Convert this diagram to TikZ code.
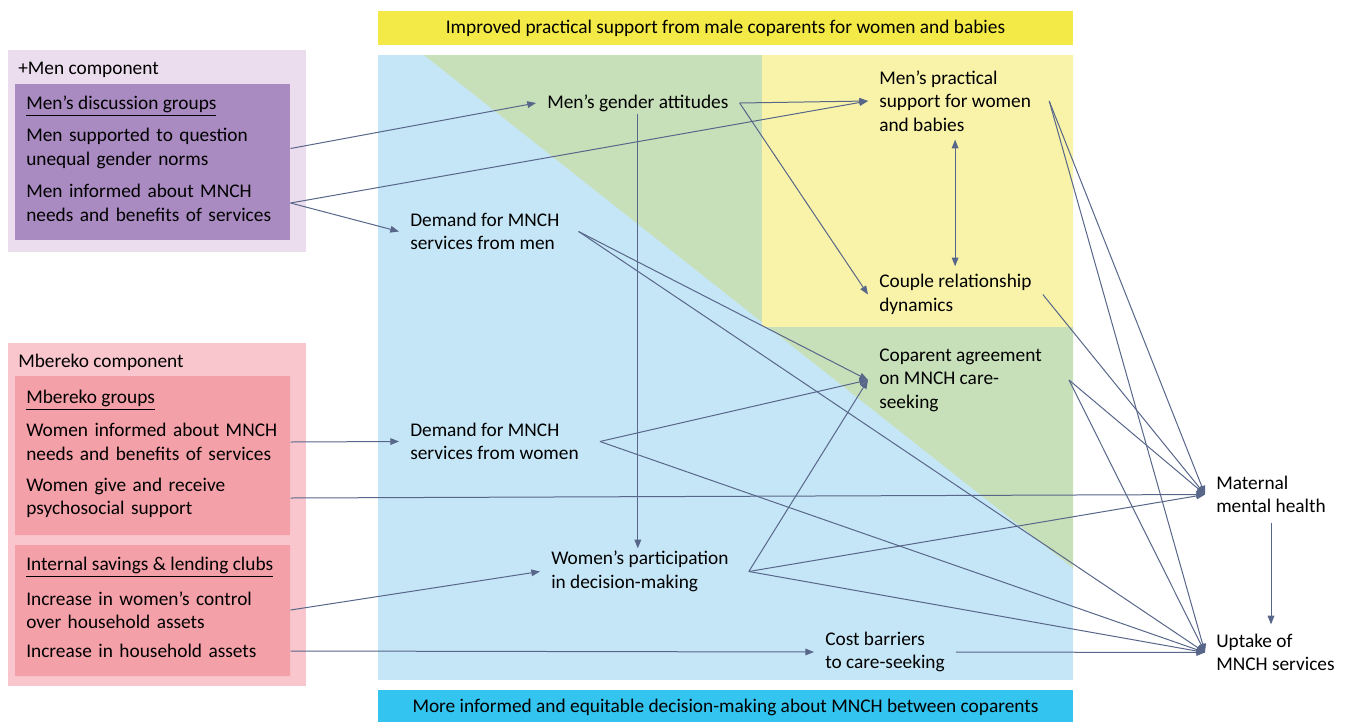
\documentclass[tikz,border=0pt]{standalone}
\usepackage{fontspec}
\setmainfont{Carlito}
\usetikzlibrary{arrows.meta,calc}
\definecolor{panelblue}{RGB}{197,230,246}
\definecolor{panelgreen}{RGB}{200,224,186}
\definecolor{panelyellow}{RGB}{248,243,168}
\definecolor{banneryellow}{RGB}{244,234,71}
\definecolor{bannerblue}{RGB}{51,196,240}
\definecolor{menouter}{RGB}{235,221,237}
\definecolor{meninner}{RGB}{169,139,193}
\definecolor{mbouter}{RGB}{248,198,204}
\definecolor{mbinner}{RGB}{244,160,168}
\definecolor{linkcol}{RGB}{88,102,138}
\begin{document}
\begin{tikzpicture}[x=0.75pt,y=-0.75pt,
    font=\fontsize{14.5}{17.6}\selectfont,
    txt/.style={anchor=west,inner xsep=8.25pt,inner ysep=2pt,align=left},
    head/.style={anchor=west,inner sep=0pt},
    item/.style={anchor=west,text width=189.75pt,inner xsep=8.25pt,inner ysep=2pt,align=left},
    link/.style={draw=linkcol,line width=0.75pt,-{Triangle[length=6.5pt,width=5pt]}}]
  \useasboundingbox (0,0) rectangle (1350,722);
  \fill[banneryellow] (378,11) rectangle (1073,45);
  \fill[panelblue] (378,55) rectangle (1073,680);
  \fill[panelgreen] (424,55) -- (1073,55) -- (1073,568) -- cycle;
  \fill[panelyellow] (762,55) rectangle (1073,327);
  \fill[bannerblue] (378,690) rectangle (1073,722);
  \fill[menouter] (8,50) rectangle (306,252);
  \fill[meninner] (15,84) rectangle (290,240);
  \fill[mbouter] (8,343) rectangle (306,686);
  \fill[mbinner] (15,376) rectangle (290,535) (15,545) rectangle (290,676);

  \node (topbanner) at (725.5,28) {Improved practical support from male coparents for women and babies};
  \node (bottombanner) at (725.5,707) {More informed and equitable decision-making about MNCH between coparents};

  \node[head] (mencomp) at (18,70) {+Men component};
  \node[head] (mengroups) at (26,106) {\underline{Men’s discussion groups}};
  \node[item] (msupp) at (15,148.5) {Men supported to question\\unequal gender norms};
  \node[item] (minfo) at (15,203) {Men informed about MNCH\\needs and benefits of services};
  \node[head] (mbcomp) at (18,362) {Mbereko component};
  \node[head] (mbgroups) at (26,400) {\underline{Mbereko groups}};
  \node[item] (winfo) at (15,442) {Women informed about MNCH\\needs and benefits of services};
  \node[item] (wsupp) at (15,498) {Women give and receive\\psychosocial support};
  \node[head] (clubs) at (26,567) {\underline{Internal savings \& lending clubs}};
  \node[item] (wctrl) at (15,610) {Increase in women’s control\\over household assets};
  \node[item] (wassets) at (15,651) {Increase in household assets};

  \node[txt] (gender) at (536,103) {Men’s gender attitudes};
  \node[txt] (practical) at (868,101) {Men’s practical\\support for women\\and babies};
  \node[txt] (dmen) at (399,231.5) {Demand for MNCH\\services from men};
  \node[txt] (couple) at (868,294.5) {Couple relationship\\dynamics};
  \node[txt] (coparent) at (868,380) {Coparent agreement\\on MNCH care-\\seeking};
  \node[txt] (dwomen) at (399,441.5) {Demand for MNCH\\services from women};
  \node[txt] (partic) at (540,571.5) {Women’s participation\\in decision-making};
  \node[txt] (cost) at (814,652) {Cost barriers\\to care-seeking};
  \node[txt] (maternal) at (1205,494.5) {Maternal\\mental health};
  \node[txt] (uptake) at (1205,652.5) {Uptake of\\MNCH services};

  \draw[link] (msupp.east) -- (gender.west);
  \draw[link] (minfo.east) -- (practical.west);
  \draw[link] (minfo.east) -- (dmen.west);
  \draw[link] (gender.east) -- (practical.west);
  \draw[link] (gender.east) -- (couple.west);
  \draw[link] (gender.south) -- (gender.south |- partic.north);
  \draw[link,{Triangle[length=6.5pt,width=5pt]}-{Triangle[length=6.5pt,width=5pt]},shorten <=4pt,shorten >=4pt]
    (practical.south) -- (practical.south |- couple.north);
  \draw[link] (winfo.east) -- (dwomen.west);
  \draw[link] (wsupp.east) -- (maternal.west);
  \draw[link] (wctrl.east) -- (partic.west);
  \draw[link] (wassets.east) -- (cost.west);
  \foreach \t in {coparent,uptake} {
    \draw[link] ($(dmen.east)+(8,0)$) -- (\t.west);
    \draw[link] ($(dwomen.east)+(10,0)$) -- (\t.west);
  }
  \foreach \t in {coparent,maternal,uptake}
    \draw[link] ($(partic.east)+(9,0)$) -- (\t.west);
  \draw[link] (cost.east) -- (uptake.west);
  \foreach \t in {maternal,uptake} {
    \draw[link] ($(practical.east)+(7,0)$) -- (\t.west);
    \draw[link] ($(coparent.east)+(16,0)$) -- (\t.west);
  }
  \draw[link] (couple.east) -- (maternal.west);
  \draw[link,shorten <=5pt,shorten >=5pt] (maternal.south) -- (maternal.south |- uptake.north);
\end{tikzpicture}
\end{document}
